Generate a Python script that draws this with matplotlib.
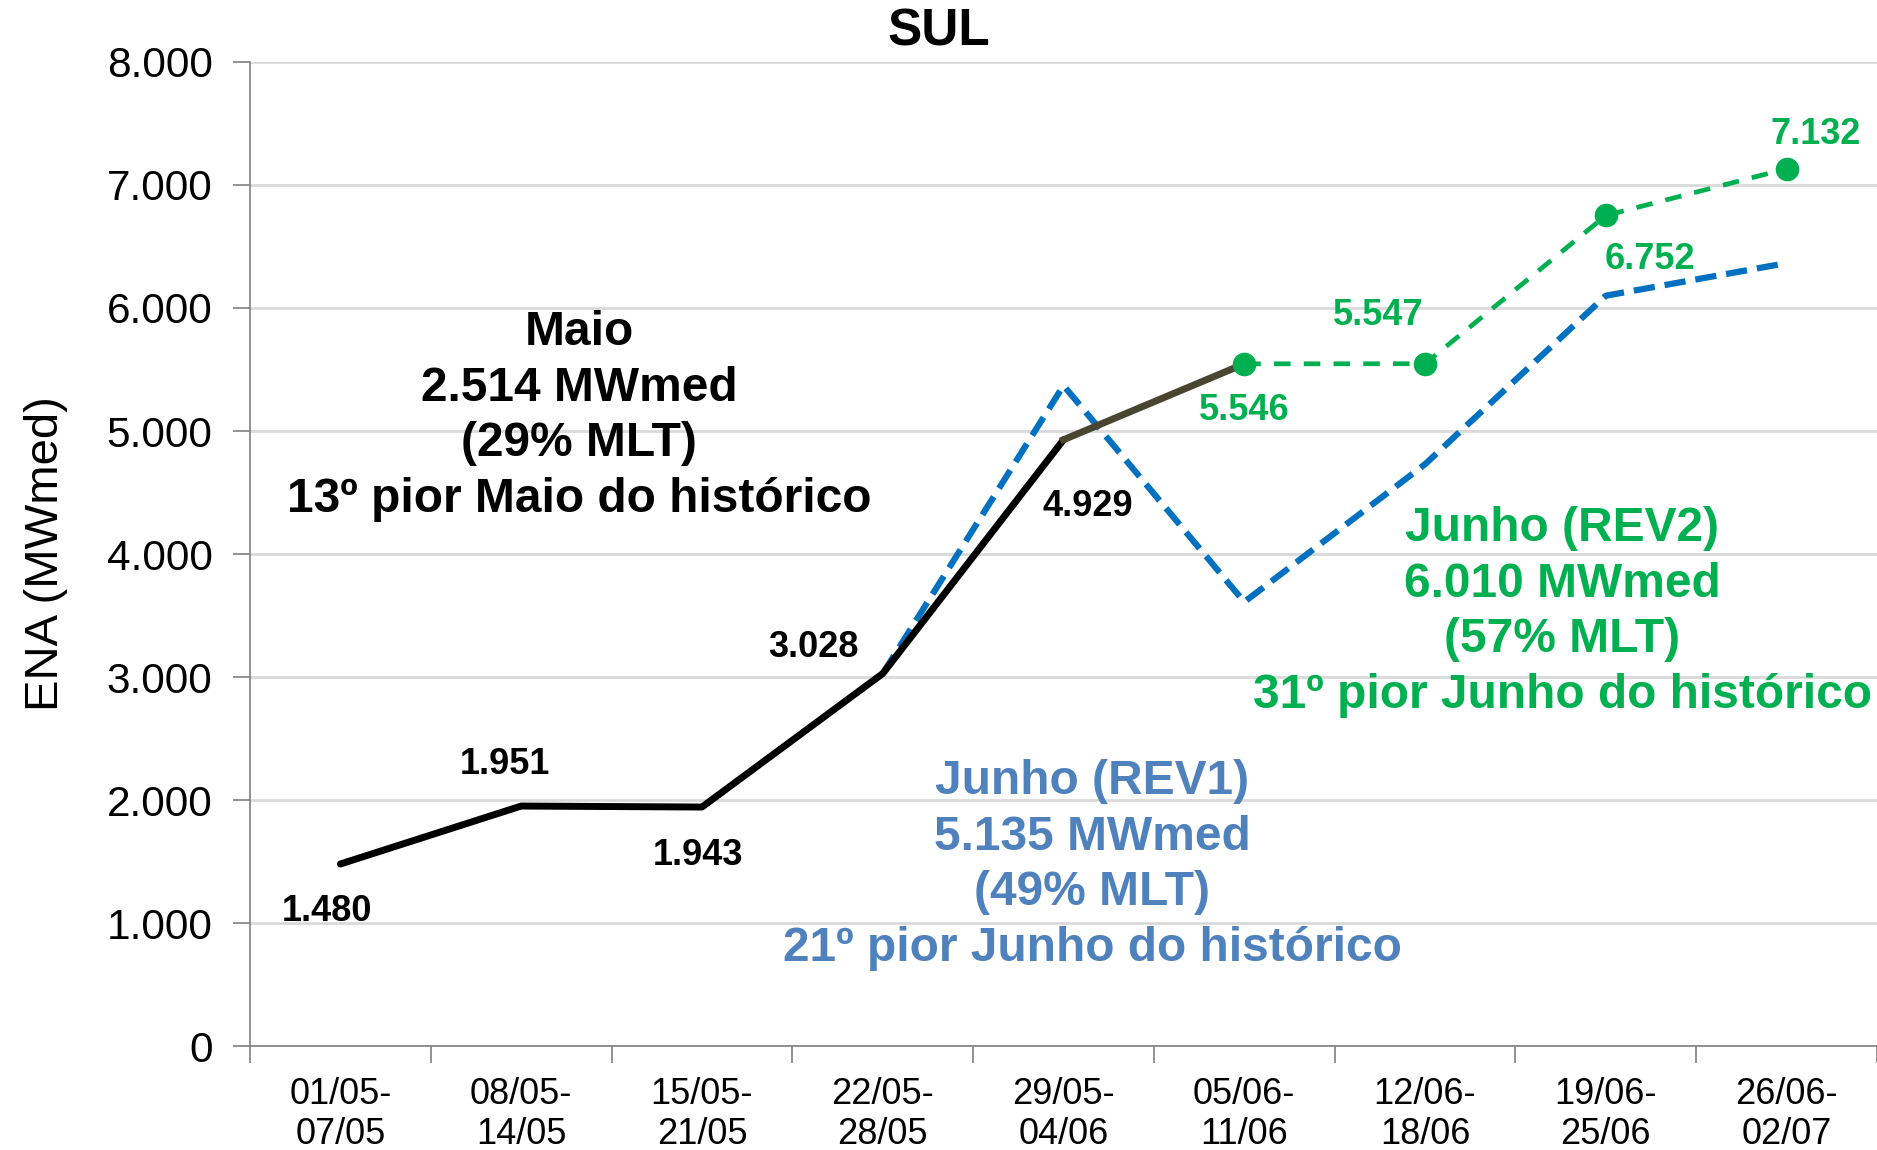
import matplotlib
matplotlib.use("Agg")
from matplotlib import pyplot as plt
from matplotlib.ticker import FuncFormatter

plt.rcParams['font.family'] = ['Liberation Sans', 'DejaVu Sans']

# Dados
semanas = ["01/05-\n07/05", "08/05-\n14/05", "15/05-\n21/05", "22/05-\n28/05", "29/05-\n04/06",
           "05/06-\n11/06", "12/06-\n18/06", "19/06-\n25/06", "26/06-\n02/07"]
x = list(range(len(semanas)))

verificado = [1480, 1951, 1943, 3028, 4929]
ligacao = [4929, 5546]
rev2 = [5546, 5547, 6752, 7132]
rev1 = [3028, 5370, 3610, 4730, 6100, 6365]

# rotulos: (x, y, dx, dy, cor) - dx/dy em pixels
rotulos = [(0, 1480, -13, -48, 'black'), (1, 1951, -16, 42, 'black'), (2, 1943, -4, -48, 'black'),
           (3, 3028, -69, 26, 'black'), (4, 4929, 24, -67, 'black'),
           (5, 5546, 0, -47, '#00B050'), (6, 5547, -47, 48, '#00B050'),
           (7, 6752, 44, -44, '#00B050'), (8, 7132, 29, 34, '#00B050')]

verde = '#00B050'
azul = '#0070C0'
azul_txt = '#4F81BD'

fig = plt.figure(figsize=(18.77, 11.5), dpi=100)
ax = fig.add_axes([0.1332, 0.0904, 0.8668, 0.8557])

ax.plot(x[3:], rev1, color=azul, lw=4.5, dashes=(3.4, 1.6), zorder=2)
ax.plot(x[:5], verificado, color='black', lw=5, zorder=3, solid_capstyle='round')
ax.plot(x[4:6], ligacao, color='#4A4530', lw=5, zorder=3)
ax.plot(x[5:], rev2, color=verde, lw=3.4, dashes=(3.5, 2.8), marker='o', markersize=16, zorder=4)

for xi, yi, dx, dy, cor in rotulos:
    ax.annotate(f"{yi:,}".replace(",", "."), (xi, yi), xytext=(dx, dy), textcoords='offset pixels',
                ha='center', va='center', fontsize=26, fontweight='bold', color=cor)

ax.text(1.32, 5120, "Maio\n2.514 MWmed\n(29% MLT)\n13º pior Maio do histórico",
        ha='center', va='center', fontsize=34.5, fontweight='bold', color='black', linespacing=1.3)
ax.text(4.16, 1470, "Junho (REV1)\n5.135 MWmed\n(49% MLT)\n21º pior Junho do histórico",
        ha='center', va='center', fontsize=34.5, fontweight='bold', color=azul_txt, linespacing=1.3)
ax.text(6.76, 3530, "Junho (REV2)\n6.010 MWmed\n(57% MLT)\n31º pior Junho do histórico",
        ha='center', va='center', fontsize=34.5, fontweight='bold', color=verde, linespacing=1.3)

ax.set_xlim(-0.5, 8.5)
ax.set_ylim(0, 8000)
ax.set_yticks(range(0, 8001, 1000))
ax.yaxis.set_major_formatter(FuncFormatter(lambda v, p: f"{int(v):,}".replace(",", ".")))
ax.set_xticks(x)
ax.set_xticklabels(semanas)
ax.set_xticks([i - 0.5 for i in range(10)], minor=True)
ax.tick_params(axis='x', which='major', length=0, labelsize=26, pad=22)
ax.tick_params(axis='x', which='minor', length=12, width=1.2, color='#808080')
ax.tick_params(axis='y', length=12, width=1.2, color='#808080', labelsize=30.5, pad=15)

ax.grid(axis='y', color='#D9D9D9', lw=2)
ax.set_axisbelow(True)
for s in ['top', 'right']:
    ax.spines[s].set_visible(False)
ax.spines['left'].set_color('#808080')
ax.spines['bottom'].set_color('#808080')
ax.spines['left'].set_linewidth(1.2)
ax.spines['bottom'].set_linewidth(1.2)

ax.set_ylabel("ENA (MWmed)", fontsize=34, labelpad=28)
fig.text(0.5, 0.972, "SUL", ha='center', va='center', fontsize=37, fontweight='bold')

fig.savefig("out.png", dpi=100)
